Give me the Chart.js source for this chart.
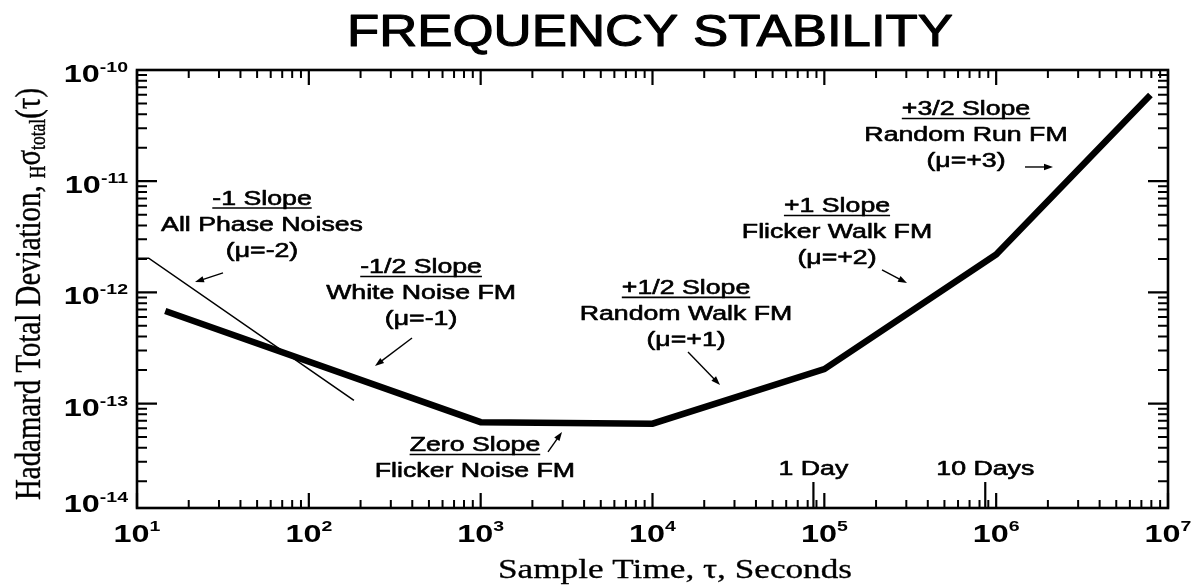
<!DOCTYPE html>
<html><head><meta charset="utf-8">
<script src="https://cdn.jsdelivr.net/npm/chart.js@4.4.1/dist/chart.umd.min.js"></script>
<style>html,body{margin:0;padding:0;background:#fff;overflow:hidden}canvas{display:block}</style>
</head><body>
<canvas id="c" width="1202" height="585"></canvas>
<script>
// ---------------- data ----------------
const tauThick   = [14.6, 1000, 10000, 1e5, 1e6, 7.9e6];
const sigmaThick = [6.8e-13, 6.8e-14, 6.6e-14, 2.04e-13, 2.19e-12, 5.96e-11];
const tauThin    = [10, 11.7, 183];
const sigmaThin  = [2.03e-12, 2.03e-12, 1.07e-13];

const xMajorTicks    = [1e1, 1e2, 1e3, 1e4, 1e5, 1e6, 1e7];
const xTickExponents = ['1', '2', '3', '4', '5', '6', '7'];
const yMajorTicks    = [1e-10, 1e-11, 1e-12, 1e-13, 1e-14];
const yTickExponents = ['-10', '-11', '-12', '-13', '-14'];
const dayTicks  = [86400, 864000];
const dayLabels = ['1 Day', '10 Days'];

const titleText  = 'FREQUENCY STABILITY';
const xTitleText = 'Sample Time, \u03C4, Seconds';

const annoLines = [
  ['-1 Slope', 'All Phase Noises', '(\u03BC=-2)'],
  ['-1/2 Slope', 'White Noise FM', '(\u03BC=-1)'],
  ['Zero Slope', 'Flicker Noise FM'],
  ['+1/2 Slope', 'Random Walk FM', '(\u03BC=+1)'],
  ['+1 Slope', 'Flicker Walk FM', '(\u03BC=+2)'],
  ['+3/2 Slope', 'Random Run FM', '(\u03BC=+3)']
];
const annoTau   = [53.4, 450, 926, 15670, 118500, 667600];
const annoSigma = [7.13e-12, 1.727e-12, 4.33e-14, 1.12e-12, 6.11e-12, 4.55e-11];

const arrowFromTau   = [31.66, 398.6, 2465, 16090, 216600, 1.472e6];
const arrowFromSigma = [1.495e-12, 3.89e-13, 3.67e-14, 2.91e-13, 1.59e-12, 1.342e-11];
const arrowToTau     = [21.75, 242.7, 2974, 24710, 302800, 2.142e6];
const arrowToSigma   = [1.24e-12, 2.18e-13, 5.56e-14, 1.47e-13, 1.215e-12, 1.342e-11];

// ---------------- drawing helpers ----------------
const SANS = '"Liberation Sans", Arial, Helvetica, sans-serif';
const SERIF = '"Liberation Serif", "Times New Roman", Times, serif';

function drawText(ctx, s, x, y, font, sx, align, stroke) {
  ctx.save();
  ctx.font = font;
  ctx.textAlign = 'left';
  ctx.textBaseline = 'alphabetic';
  const w = ctx.measureText(s).width * sx;
  const x0 = align === 'center' ? x - w / 2 : (align === 'right' ? x - w : x);
  ctx.translate(x0, y);
  ctx.scale(sx, 1);
  ctx.fillText(s, 0, 0);
  if (stroke) { ctx.lineWidth = stroke; ctx.lineJoin = 'round'; ctx.strokeText(s, 0, 0); }
  ctx.restore();
  return { x0: x0, w: w };
}
function fitText(ctx, s, cx, y, font, width, stroke) {
  ctx.save(); ctx.font = font;
  const sx = width / ctx.measureText(s).width;
  ctx.restore();
  return drawText(ctx, s, cx, y, font, sx, 'center', stroke);
}
function arrow(ctx, x0, y0, x1, y1) {
  const a = Math.atan2(y1 - y0, x1 - x0);
  const L = 9, H = 3.2;
  ctx.save();
  ctx.lineWidth = 1.4;
  ctx.beginPath();
  ctx.moveTo(x0, y0);
  ctx.lineTo(x1 - L * 0.7 * Math.cos(a), y1 - L * 0.7 * Math.sin(a));
  ctx.stroke();
  ctx.beginPath();
  ctx.moveTo(x1, y1);
  ctx.lineTo(x1 - L * Math.cos(a) + H * Math.sin(a), y1 - L * Math.sin(a) - H * Math.cos(a));
  ctx.lineTo(x1 - L * Math.cos(a) - H * Math.sin(a), y1 - L * Math.sin(a) + H * Math.cos(a));
  ctx.closePath();
  ctx.fill();
  ctx.restore();
}

const decorPlugin = {
  id: 'decor',
  afterDraw(chart) {
    const ctx = chart.ctx;
    const xs = chart.scales.x, ys = chart.scales.y;
    const A = chart.chartArea;
    ctx.save();
    ctx.fillStyle = '#000';
    ctx.strokeStyle = '#000';

    // frame
    ctx.lineWidth = 2.6;
    ctx.strokeRect(A.left, A.top, A.right - A.left, A.bottom - A.top);

    // x ticks (inward, bottom and top)
    ctx.lineCap = 'butt';
    for (let k = 0; k < xMajorTicks.length; k++) {
      const base = xMajorTicks[k];
      for (let m = 1; m <= 9; m++) {
        const v = base * m;
        if (v < xs.min || v > xs.max) continue;
        if (m > 1 && k === xMajorTicks.length - 1) continue;
        const px = xs.getPixelForValue(v);
        const len = m === 1 ? 15 : 8;
        ctx.lineWidth = m === 1 ? 2.2 : 2;
        ctx.beginPath();
        ctx.moveTo(px, A.bottom); ctx.lineTo(px, A.bottom - len);
        ctx.moveTo(px, A.top); ctx.lineTo(px, A.top + len);
        ctx.stroke();
      }
    }
    // day ticks
    ctx.lineWidth = 2.2;
    for (let i = 0; i < dayTicks.length; i++) {
      const px = xs.getPixelForValue(dayTicks[i]);
      ctx.beginPath();
      ctx.moveTo(px, A.bottom); ctx.lineTo(px, A.bottom - 26);
      ctx.stroke();
      drawText(ctx, dayLabels[i], px, A.bottom - 33, '20px ' + SANS, 1.335, 'center', 0.6);
    }
    // y ticks (inward, left and right)
    for (let k = 0; k < yMajorTicks.length; k++) {
      const base = yMajorTicks[k];
      for (let m = 1; m <= 9; m++) {
        const v = base * m;
        if (v < ys.min * 0.999 || v > ys.max * 1.001) continue;
        const py = ys.getPixelForValue(v);
        const len = m === 1 ? 20 : 10;
        ctx.lineWidth = m === 1 ? 2.2 : 2;
        ctx.beginPath();
        ctx.moveTo(A.left, py); ctx.lineTo(A.left + len, py);
        ctx.moveTo(A.right, py); ctx.lineTo(A.right - len, py);
        ctx.stroke();
      }
    }

    // y tick labels
    for (let i = 0; i < yMajorTicks.length; i++) {
      let py = ys.getPixelForValue(yMajorTicks[i]);
      py = Math.min(Math.max(py, A.top), A.bottom - 8);
      const c = py + 3.5;
      const rightEdge = A.left - 9;
      const sup = drawText(ctx, yTickExponents[i], rightEdge, c - 1.5, 'bold 15px ' + SANS, 1.3, 'right');
      drawText(ctx, '10', sup.x0, c + 8.5, 'bold 24px ' + SANS, 1.35, 'right');
    }
    // x tick labels
    for (let i = 0; i < xMajorTicks.length; i++) {
      const px = xs.getPixelForValue(xMajorTicks[i]);
      ctx.font = 'bold 24px ' + SANS;
      const w1 = ctx.measureText('10').width * 1.35;
      ctx.font = 'bold 15px ' + SANS;
      const w2 = ctx.measureText(xTickExponents[i]).width * 1.3;
      const x0 = px - (w1 + w2) / 2;
      drawText(ctx, '10', x0, 542, 'bold 24px ' + SANS, 1.35, 'left');
      drawText(ctx, xTickExponents[i], x0 + w1, 531, 'bold 15px ' + SANS, 1.3, 'left');
    }

    // annotations
    for (let i = 0; i < annoLines.length; i++) {
      const cx = xs.getPixelForValue(annoTau[i]);
      const cy = ys.getPixelForValue(annoSigma[i]);
      for (let j = 0; j < annoLines[i].length; j++) {
        const base = cy + 7 + j * 26;
        const r = drawText(ctx, annoLines[i][j], cx, base, '20px ' + SANS, 1.335, 'center', 0.6);
        if (j === 0) {
          ctx.lineWidth = 1.6;
          ctx.beginPath();
          ctx.moveTo(r.x0, base + 3.5); ctx.lineTo(r.x0 + r.w, base + 3.5);
          ctx.stroke();
        }
      }
    }
    // arrows
    for (let i = 0; i < arrowFromTau.length; i++) {
      arrow(ctx,
        xs.getPixelForValue(arrowFromTau[i]), ys.getPixelForValue(arrowFromSigma[i]),
        xs.getPixelForValue(arrowToTau[i]), ys.getPixelForValue(arrowToSigma[i]));
    }

    // title
    fitText(ctx, titleText, 650, 45.5, '44px ' + SANS, 606, 1.1);
    // x title
    fitText(ctx, xTitleText, 675, 578, '27px ' + SERIF, 354, 0.3);

    // y title (rotated, with subscripts)
    const pieces = [
      ['Hadamard Total Deviation, ', 28, 0],
      ['H', 17, 4],
      ['\u03C3', 28, 0],
      ['total', 17, 4],
      ['(\u03C4)', 28, 0]
    ];
    let total = 0;
    for (const p of pieces) { ctx.font = p[1] + 'px ' + SERIF; total += ctx.measureText(p[0]).width; }
    const sLen = 412 / total;
    ctx.save();
    ctx.translate(39.5, 500);
    ctx.rotate(-Math.PI / 2);
    ctx.scale(sLen, 1.3);
    ctx.textBaseline = 'alphabetic';
    ctx.textAlign = 'left';
    ctx.lineWidth = 0.3;
    let x = 0;
    for (const p of pieces) {
      ctx.font = p[1] + 'px ' + SERIF;
      ctx.fillText(p[0], x, p[2]);
      ctx.strokeText(p[0], x, p[2]);
      x += ctx.measureText(p[0]).width;
    }
    ctx.restore();

    ctx.restore();
  }
};

new Chart(document.getElementById('c').getContext('2d'), {
  type: 'line',
  data: {
    datasets: [
      {
        data: tauThick.map((t, i) => ({ x: t, y: sigmaThick[i] })),
        borderColor: '#000', borderWidth: 6.5, pointRadius: 0, tension: 0,
        borderJoinStyle: 'miter', borderCapStyle: 'butt', fill: false
      },
      {
        data: tauThin.map((t, i) => ({ x: t, y: sigmaThin[i] })),
        borderColor: '#000', borderWidth: 1.6, pointRadius: 0, tension: 0,
        borderJoinStyle: 'miter', borderCapStyle: 'butt', fill: false
      }
    ]
  },
  options: {
    responsive: false,
    animation: false,
    devicePixelRatio: 1,
    layout: { padding: { left: 137, right: 34, top: 70, bottom: 77 } },
    plugins: { legend: { display: false }, tooltip: { enabled: false }, title: { display: false } },
    scales: {
      x: { type: 'logarithmic', min: 10, max: 1e7, display: false },
      y: { type: 'logarithmic', min: 1.15e-14, max: 1e-10, display: false }
    }
  },
  plugins: [decorPlugin]
});
</script>
</body></html>
